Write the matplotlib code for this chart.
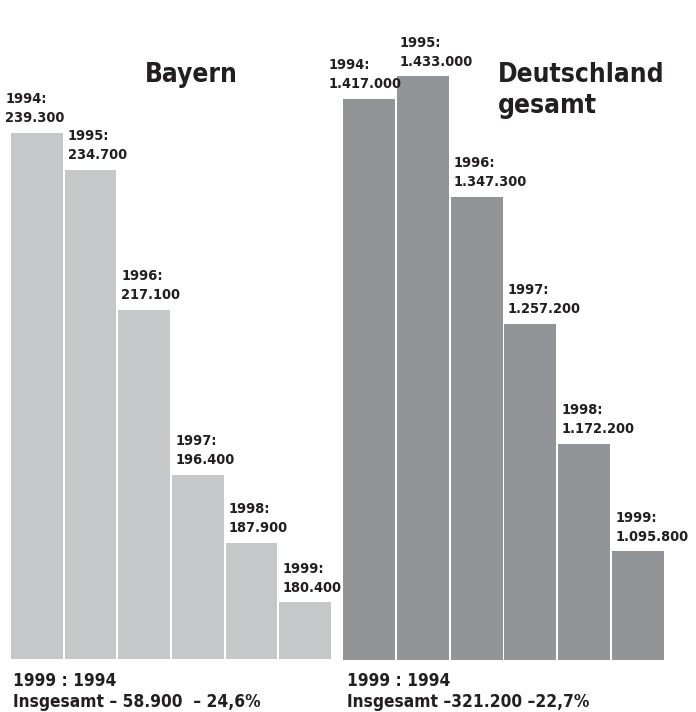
import matplotlib
matplotlib.use("Agg")
import matplotlib.pyplot as plt
from matplotlib import font_manager as fm

# data
years = [1994, 1995, 1996, 1997, 1998, 1999]
bayern = [239300, 234700, 217100, 196400, 187900, 180400]
deutschland = [1417000, 1433000, 1347300, 1257200, 1172200, 1095800]
titles = ["Bayern", "Deutschland\ngesamt"]
footer_1 = ["1999 : 1994", "1999 : 1994"]
footer_2 = ["Insgesamt \u2013 58.900  \u2013 24,6%", "Insgesamt \u2013321.200 \u201322,7%"]

# a condensed face if there is one, else plain DejaVu at smaller sizes
condensed = any(f.name == 'DejaVu Sans' and 'condensed' in str(f.stretch)
                for f in fm.fontManager.ttflist)
stretch = 'condensed' if condensed else 'normal'
k = 1.11 if condensed else 1.0
plt.rcParams['font.family'] = ['DejaVu Sans']
ink = '#231f20'

fig = plt.figure(figsize=(6.96, 7.12), dpi=100)

def de(v):
    return f"{v:,}".replace(",", ".")

def panel(rect, vals, ylim, color, first_dx):
    ax = fig.add_axes(rect)
    x = list(range(len(vals)))
    ax.bar(x, vals, width=0.965, color=color, linewidth=0)
    ax.set_xlim(-0.5, len(vals) - 0.5)
    ax.set_ylim(*ylim)
    ax.axis('off')
    for i, (yr, v) in enumerate(zip(years, vals)):
        dx = first_dx if i == 0 else 2.2
        ax.annotate(f"{yr}:\n{de(v)}", xy=(i - 0.48, v), xytext=(dx, 5.5),
                    textcoords='offset points', ha='left', va='bottom',
                    fontsize=9.4 * k, fontweight='bold', fontstretch=stretch,
                    color=ink, linespacing=1.45, annotation_clip=False)
    return ax

panel([10 / 696, 0.0744, 322 / 696, 0.9256], bayern, (173300, 256000), '#c6c7c9', -4.3)
panel([342 / 696, 0.0730, 323 / 696, 0.9270], deutschland, (1018500, 1487200), '#939497', -10.8)

tkw = dict(fontsize=17 * k, fontweight='bold', fontstretch=stretch, color=ink,
           va='baseline', ha='left')
fig.text(145 / 696, 1 - 82 / 712, titles[0], **tkw)
t1, t2 = titles[1].split("\n")
fig.text(498 / 696, 1 - 82 / 712, t1, **tkw)
fig.text(498 / 696, 1 - 113 / 712, t2, **tkw)

fkw = dict(fontsize=11.2 * k, fontweight='bold', fontstretch=stretch, color=ink,
           va='baseline', ha='left')
for xpx, a, b in zip([13, 347], footer_1, footer_2):
    fig.text(xpx / 696, 1 - 686 / 712, a, **fkw)
    fig.text(xpx / 696, 1 - 707 / 712, b, **fkw)

fig.savefig("out.png", dpi=100)
